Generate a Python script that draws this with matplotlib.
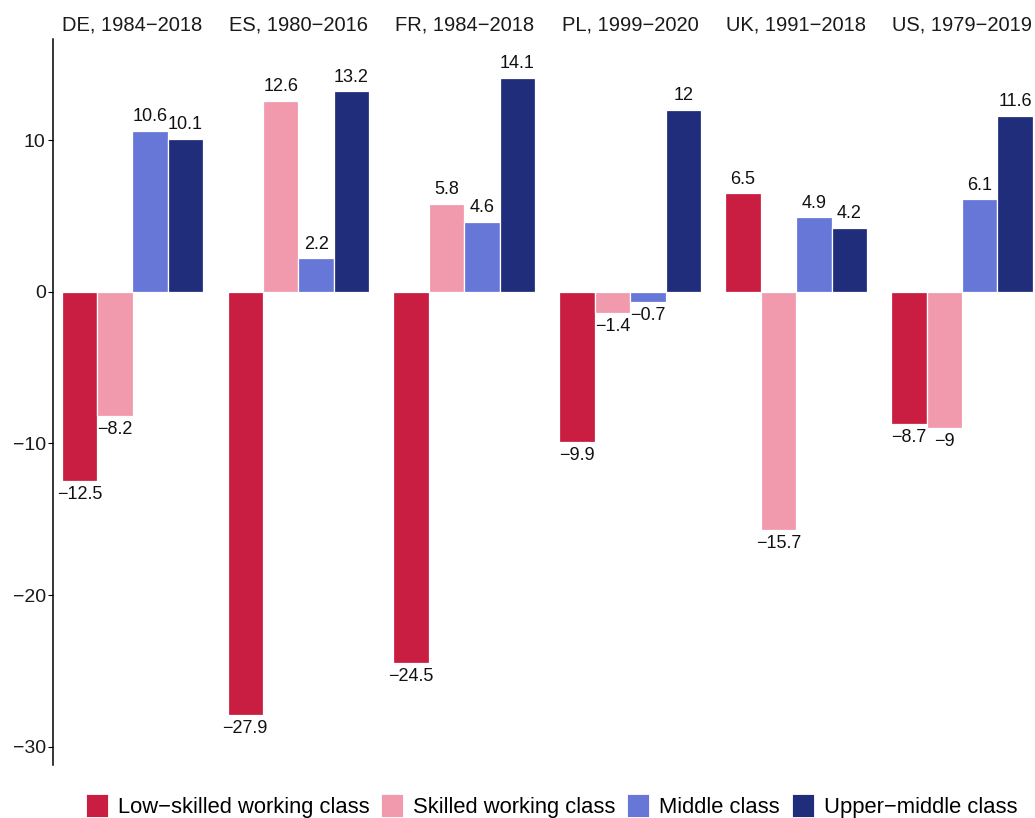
import numpy as np
import matplotlib
matplotlib.use("Agg")
import matplotlib.pyplot as plt
from matplotlib.patches import Patch

plt.rcParams['font.family'] = ['Liberation Sans', 'DejaVu Sans']

# data
panels = ["DE, 1984−2018", "ES, 1980−2016", "FR, 1984−2018",
          "PL, 1999−2020", "UK, 1991−2018", "US, 1979−2019"]
classes = ["Low−skilled working class", "Skilled working class",
           "Middle class", "Upper−middle class"]
low_skilled = [-12.5, -27.9, -24.5, -9.9, 6.5, -8.7]
skilled = [-8.2, 12.6, 5.8, -1.4, -15.7, -9]
middle = [10.6, 2.2, 4.6, -0.7, 4.9, 6.1]
upper_middle = [10.1, 13.2, 14.1, 12, 4.2, 11.6]
colors = ["#C91E42", "#F199AD", "#6677D8", "#202D7A"]
yticks = [-30, -20, -10, 0, 10]

series = [low_skilled, skilled, middle, upper_middle]

W, H = 1035, 818
fig = plt.figure(figsize=(W / 100, H / 100), dpi=100)

# panel geometry in pixels
left0, pitch, pw = 53.3, 165.9, 158.4
top_px, bot_px = 39.3, 765
marg = 0.237  # x padding in bar units

def fmt(v):
    return f"{v:g}".replace("-", "−")

for k, name in enumerate(panels):
    ax = fig.add_axes([(left0 + pitch * k) / W, (H - bot_px) / H,
                       pw / W, (bot_px - top_px) / H])
    vals = [s[k] for s in series]
    xs = np.arange(4)
    ax.bar(xs, vals, width=1.0, color=colors, edgecolor="white", linewidth=0.9)
    for x, v in zip(xs, vals):
        if v >= 0:
            ax.annotate(fmt(v), (x, v), xytext=(0, 4), textcoords="offset points",
                        ha="center", va="bottom", fontsize=13, color="#111111")
        else:
            ax.annotate(fmt(v), (x, v), xytext=(0, -3.5), textcoords="offset points",
                        ha="center", va="top", fontsize=13, color="#111111")
    ax.set_xlim(-0.5 - marg, 3.5 + marg)
    ax.set_ylim(-31.2, 16.64)
    ax.set_xticks([])
    for sp in ["top", "right", "bottom"]:
        ax.spines[sp].set_visible(False)
    ax.set_title(name, fontsize=14.5, color="#1a1a1a", pad=6.5)
    if k == 0:
        ax.spines["left"].set_linewidth(1.1)
        ax.set_yticks(yticks)
        ax.set_yticklabels([fmt(t) for t in yticks])
        ax.tick_params(axis="y", length=3.5, width=0.8, labelsize=14,
                       labelcolor="#1a1a1a", pad=2)
    else:
        ax.spines["left"].set_visible(False)
        ax.set_yticks([])

handles = [Patch(facecolor=c, edgecolor="white", linewidth=0.6) for c in colors]
fig.legend(handles, classes, loc="center", ncol=4,
           bbox_to_anchor=(551.5 / W, 1 - 806 / H), frameon=False,
           fontsize=15.8, handlelength=1.0, handleheight=1.2,
           handletextpad=0.45, columnspacing=0.55, borderpad=0)

fig.savefig("out.png", dpi=100)
